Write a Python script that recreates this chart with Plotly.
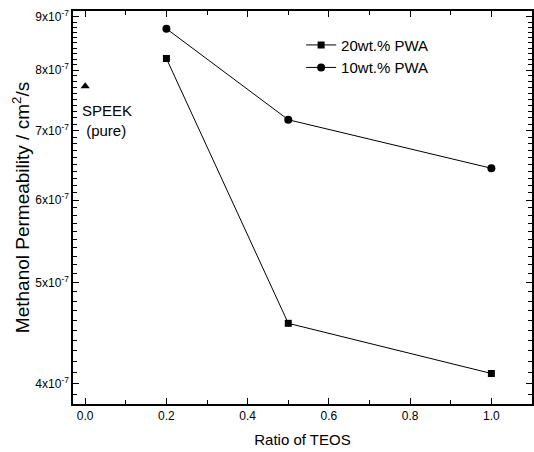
import math
import plotly.graph_objects as go

ratio = [0.2, 0.5, 1.0]
pwa20 = [8.21e-7, 4.57e-7, 4.09e-7]
pwa10 = [8.77e-7, 7.17e-7, 6.44e-7]
speek_x = [0.0]
speek_y = [7.72e-7]

ytick_vals = [4e-7, 5e-7, 6e-7, 7e-7, 8e-7, 9e-7]
ytick_text = ["4x10<sup>-7</sup>", "5x10<sup>-7</sup>", "6x10<sup>-7</sup>",
              "7x10<sup>-7</sup>", "8x10<sup>-7</sup>", "9x10<sup>-7</sup>"]
yminor_vals = [v * 1e-8 for v in range(39, 92) if v % 10 != 0]

FONT = "Liberation Sans Narrow, Arial Narrow, Liberation Sans, sans-serif"
FONT_REG = "Liberation Sans, Arial, sans-serif"

fig = go.Figure()
fig.add_trace(go.Scatter(x=ratio, y=pwa20, mode="lines+markers", name="20wt.% PWA",
                         line=dict(color="black", width=1),
                         marker=dict(symbol="square", size=7, color="black")))
fig.add_trace(go.Scatter(x=ratio, y=pwa10, mode="lines+markers", name="10wt.% PWA",
                         line=dict(color="black", width=1),
                         marker=dict(symbol="circle", size=8, color="black")))
fig.add_trace(go.Scatter(x=speek_x, y=speek_y, mode="markers", showlegend=False,
                         marker=dict(symbol="triangle-up", size=8, color="black")))

fig.add_annotation(x=speek_x[0], y=math.log10(speek_y[0]), xref="x", yref="y",
                   text="SPEEK<br> (pure)", showarrow=False, xanchor="left", yanchor="top",
                   xshift=-5, yshift=-14, align="left",
                   font=dict(family=FONT, size=15, color="black"))

axis_common = dict(showline=True, linecolor="black", linewidth=1.5, mirror="ticks",
                   ticks="inside", tickcolor="black", tickwidth=1, ticklen=6,
                   showgrid=False, zeroline=False, automargin=False,
                   tickfont=dict(family=FONT, size=12, color="black"))

fig.update_xaxes(range=[-0.03, 1.1], tick0=0, dtick=0.2, tickformat=".1f",
                 minor=dict(dtick=0.1, ticks="inside", ticklen=4, tickcolor="black"),
                 title=dict(text="Ratio of TEOS", font=dict(family=FONT, size=15, color="black"),
                            standoff=12),
                 **axis_common)
fig.update_yaxes(type="log", range=[math.log10(3.823e-7), math.log10(9.12e-7)],
                 tickvals=ytick_vals, ticktext=ytick_text,
                 minor=dict(tickvals=yminor_vals, ticks="inside", ticklen=4, tickcolor="black"),
                 title=dict(text="Methanol Permeability / cm<sup>2</sup>/s",
                            font=dict(family=FONT_REG, size=19, color="black"), standoff=1),
                 **axis_common)

fig.update_layout(width=534, height=452, margin=dict(l=73, r=2, t=11, b=48),
                  plot_bgcolor="white", paper_bgcolor="white",
                  font=dict(family=FONT, color="black"),
                  legend=dict(x=0.497, y=0.955, xanchor="left", yanchor="top",
                              bgcolor="rgba(0,0,0,0)", font=dict(family=FONT, size=15),
                              itemwidth=30, tracegroupgap=0))

fig.write_html("out.html", config={"displayModeBar": False},
               post_script="document.body.style.margin='0';document.body.style.overflow='hidden';")
